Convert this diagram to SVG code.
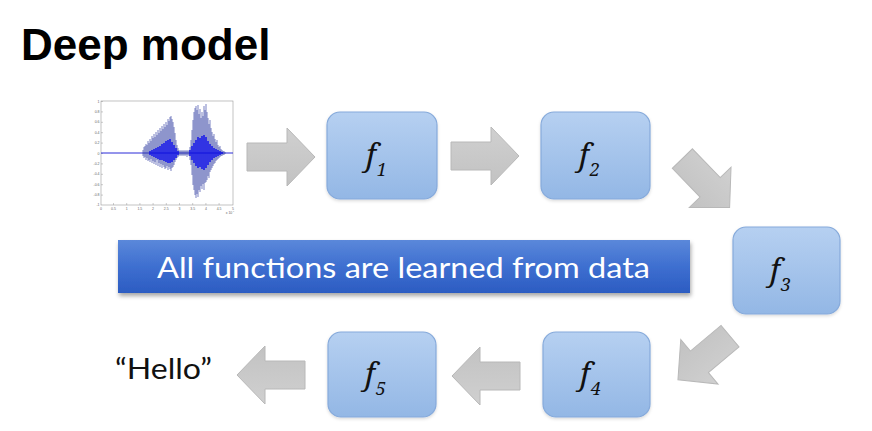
<svg xmlns="http://www.w3.org/2000/svg" width="872" height="431" viewBox="0 0 872 431">
<defs>
<style>
.title{font-family:"Liberation Sans",Arial,sans-serif;font-weight:bold;font-size:44px;fill:#000}
.box{fill:url(#boxg);stroke:#86aadb;stroke-width:1.2}
.arrow{fill:url(#arrg);stroke:#b8b8b8;stroke-width:1}
.tick{font-family:"Liberation Sans",Arial,sans-serif;font-size:3.5px;fill:#666}
.fl{font-family:"Noto Serif","DejaVu Serif",serif;font-style:italic;font-size:31px;fill:#111}
.banner-t{font-family:Lato,"Open Sans",sans-serif;font-size:29px;fill:#fff}
.hello{font-family:Lato,"Open Sans",sans-serif;font-size:28px;fill:#111}
</style>
<linearGradient id="boxg" x1="0" y1="0" x2="0" y2="1">
<stop offset="0" stop-color="#b6d0f1"/>
<stop offset="1" stop-color="#93b7e5"/>
</linearGradient>
<linearGradient id="arrg" x1="0" y1="0" x2="0" y2="1">
<stop offset="0" stop-color="#d0d0d0"/>
<stop offset="1" stop-color="#c2c2c2"/>
</linearGradient>
<linearGradient id="bang" x1="0" y1="0" x2="0" y2="1">
<stop offset="0" stop-color="#5b88da"/>
<stop offset="0.5" stop-color="#3e6fd0"/>
<stop offset="1" stop-color="#2c5cc2"/>
</linearGradient>
<filter id="sh" x="-10%" y="-30%" width="120%" height="170%">
<feDropShadow dx="1" dy="3" stdDeviation="2" flood-color="#000" flood-opacity="0.35"/>
</filter>
<filter id="bsh" x="-10%" y="-10%" width="120%" height="130%">
<feDropShadow dx="0" dy="1.5" stdDeviation="1.5" flood-color="#000" flood-opacity="0.15"/>
</filter>
<path id="arr" d="M-34,-14 L6,-14 L6,-29 L34,0 L6,29 L6,14 L-34,14 Z"/>
</defs>

<rect width="872" height="431" fill="#fff"/>

<text class="title" x="21" y="60">Deep model</text>

<g id="waveform">
<rect x="101" y="101" width="132" height="104" fill="#fff" stroke="#999" stroke-width="0.6"/>
<g stroke="#999" stroke-width="0.5">
<path d="M101,101.5h2M101,111.9h2M101,122.3h2M101,132.7h2M101,143.1h2M101,153.5h2M101,163.9h2M101,174.3h2M101,184.7h2M101,195.1h2"/>
<path d="M113.5,205v-2M126.7,205v-2M139.9,205v-2M153.1,205v-2M166.3,205v-2M179.5,205v-2M192.7,205v-2M205.9,205v-2M219.1,205v-2"/>
</g>
<g class="tick" text-anchor="end">
<text x="99.5" y="102.5">1</text><text x="99.5" y="112.9">0.8</text><text x="99.5" y="123.3">0.6</text><text x="99.5" y="133.7">0.4</text><text x="99.5" y="144.1">0.2</text><text x="99.5" y="154.5">0</text><text x="99.5" y="164.9">-0.2</text><text x="99.5" y="175.3">-0.4</text><text x="99.5" y="185.7">-0.6</text><text x="99.5" y="196.1">-0.8</text><text x="99.5" y="206">-1</text>
</g>
<g class="tick" text-anchor="middle">
<text x="101" y="209.5">0</text><text x="113.5" y="209.5">0.5</text><text x="126.7" y="209.5">1</text><text x="139.9" y="209.5">1.5</text><text x="153.1" y="209.5">2</text><text x="166.3" y="209.5">2.5</text><text x="179.5" y="209.5">3</text><text x="192.7" y="209.5">3.5</text><text x="205.9" y="209.5">4</text><text x="219.1" y="209.5">4.5</text><text x="233" y="209.5">5</text>
<text x="229" y="214">x 10</text><text x="233.5" y="212" font-size="2.5">4</text>
</g>
<path d="M101,153H233" stroke="#2a2ad8" stroke-width="1"/>
<path fill="none" stroke="#2a36a0" stroke-width="0.7" stroke-opacity="0.9" d="M143,150V156M144,147V158M145,146V157M146,144V160M147,145V158M148,141V161M149,143V160M150,139V162M151,141V159M152,136V163M153,138V161M154,134V164M155,137V162M156,132V165M157,135V160M158,130V166M159,133V163M160,128V167M161,131V164M162,126V168M163,129V165M164,124V167M165,127V169M166,122V168M167,125V166M168,119V170M169,121V167M170,117V169M171,116V171M172,119V168M173,122V167M174,127V165M175,133V162M176,140V160M177,145V158M178,148V157M179,150V156M180,151V155M181,150V156M182,151V155M183,150V156M184,151V155M185,150V156M186,151V155M187,150V157M188,151V155M189,150V156M190,147V160M191,140V165M192,130V175M193,120V185M194,112V190M195,108V195M196,106V198M197,110V194M198,105V197M199,114V190M200,109V192M201,118V186M202,112V189M203,116V184M204,106V190M205,110V183M206,104V182M207,112V180M208,118V176M209,124V178M210,120V172M211,128V170M212,132V168M213,136V166M214,134V164M215,139V163M216,142V161M217,140V160M218,145V159M219,147V158M220,146V157M221,149V156M222,150V156M223,151V155M224,151V155M225,152V154"/>
<path fill="none" stroke="#0000f0" stroke-width="1.3" d="M150,151V155M152,150V156M154,149V157M156,148V158M158,147V159M160,146V160M162,144V160M164,143V161M166,141V162M168,140V163M170,139V163M172,142V162M174,145V160M176,148V158M178,151V155M190,150V156M192,146V160M194,143V163M196,140V166M198,137V168M200,138V167M202,136V169M204,135V170M206,137V168M208,141V165M210,144V162M212,146V160M214,148V158M216,149V157M218,150V156M220,151V155M222,152V154"/>
</g>

<g id="connectors">
<use href="#arr" class="arrow" transform="translate(281,157)"/>
<use href="#arr" class="arrow" transform="translate(485,156)"/>
<use href="#arr" class="arrow" transform="translate(706,183) rotate(46)"/>
<use href="#arr" class="arrow" transform="translate(704,358) rotate(140)"/>
<use href="#arr" class="arrow" transform="translate(486,376) rotate(180)"/>
<use href="#arr" class="arrow" transform="translate(271,375) rotate(180)"/>
</g>

<g id="f1">
<rect class="box" x="327" y="112" width="110" height="87" rx="13" filter="url(#bsh)"/>
<text class="fl" x="366" y="166">f<tspan font-size="18" dx="1" dy="10">1</tspan></text>
</g>
<g id="f2">
<rect class="box" x="541" y="112" width="109" height="87" rx="13" filter="url(#bsh)"/>
<text class="fl" x="579" y="166">f<tspan font-size="18" dx="1" dy="10">2</tspan></text>
</g>
<g id="f3">
<rect class="box" x="733" y="227" width="107" height="87" rx="13" filter="url(#bsh)"/>
<text class="fl" x="770" y="281">f<tspan font-size="18" dx="1" dy="10">3</tspan></text>
</g>
<g id="f4">
<rect class="box" x="543" y="332" width="107" height="85" rx="13" filter="url(#bsh)"/>
<text class="fl" x="580" y="385">f<tspan font-size="18" dx="1" dy="10">4</tspan></text>
</g>
<g id="f5">
<rect class="box" x="328" y="332" width="108" height="85" rx="13" filter="url(#bsh)"/>
<text class="fl" x="365" y="385">f<tspan font-size="18" dx="1" dy="10">5</tspan></text>
</g>

<g id="banner">
<rect x="118" y="240" width="572" height="53" fill="url(#bang)" filter="url(#sh)"/>
<text class="banner-t" x="157" y="278" textLength="493" lengthAdjust="spacingAndGlyphs">All functions are learned from data</text>
</g>

<g id="hello">
<text class="hello" x="115" y="379" textLength="97" lengthAdjust="spacingAndGlyphs">“Hello”</text>
</g>
</svg>
